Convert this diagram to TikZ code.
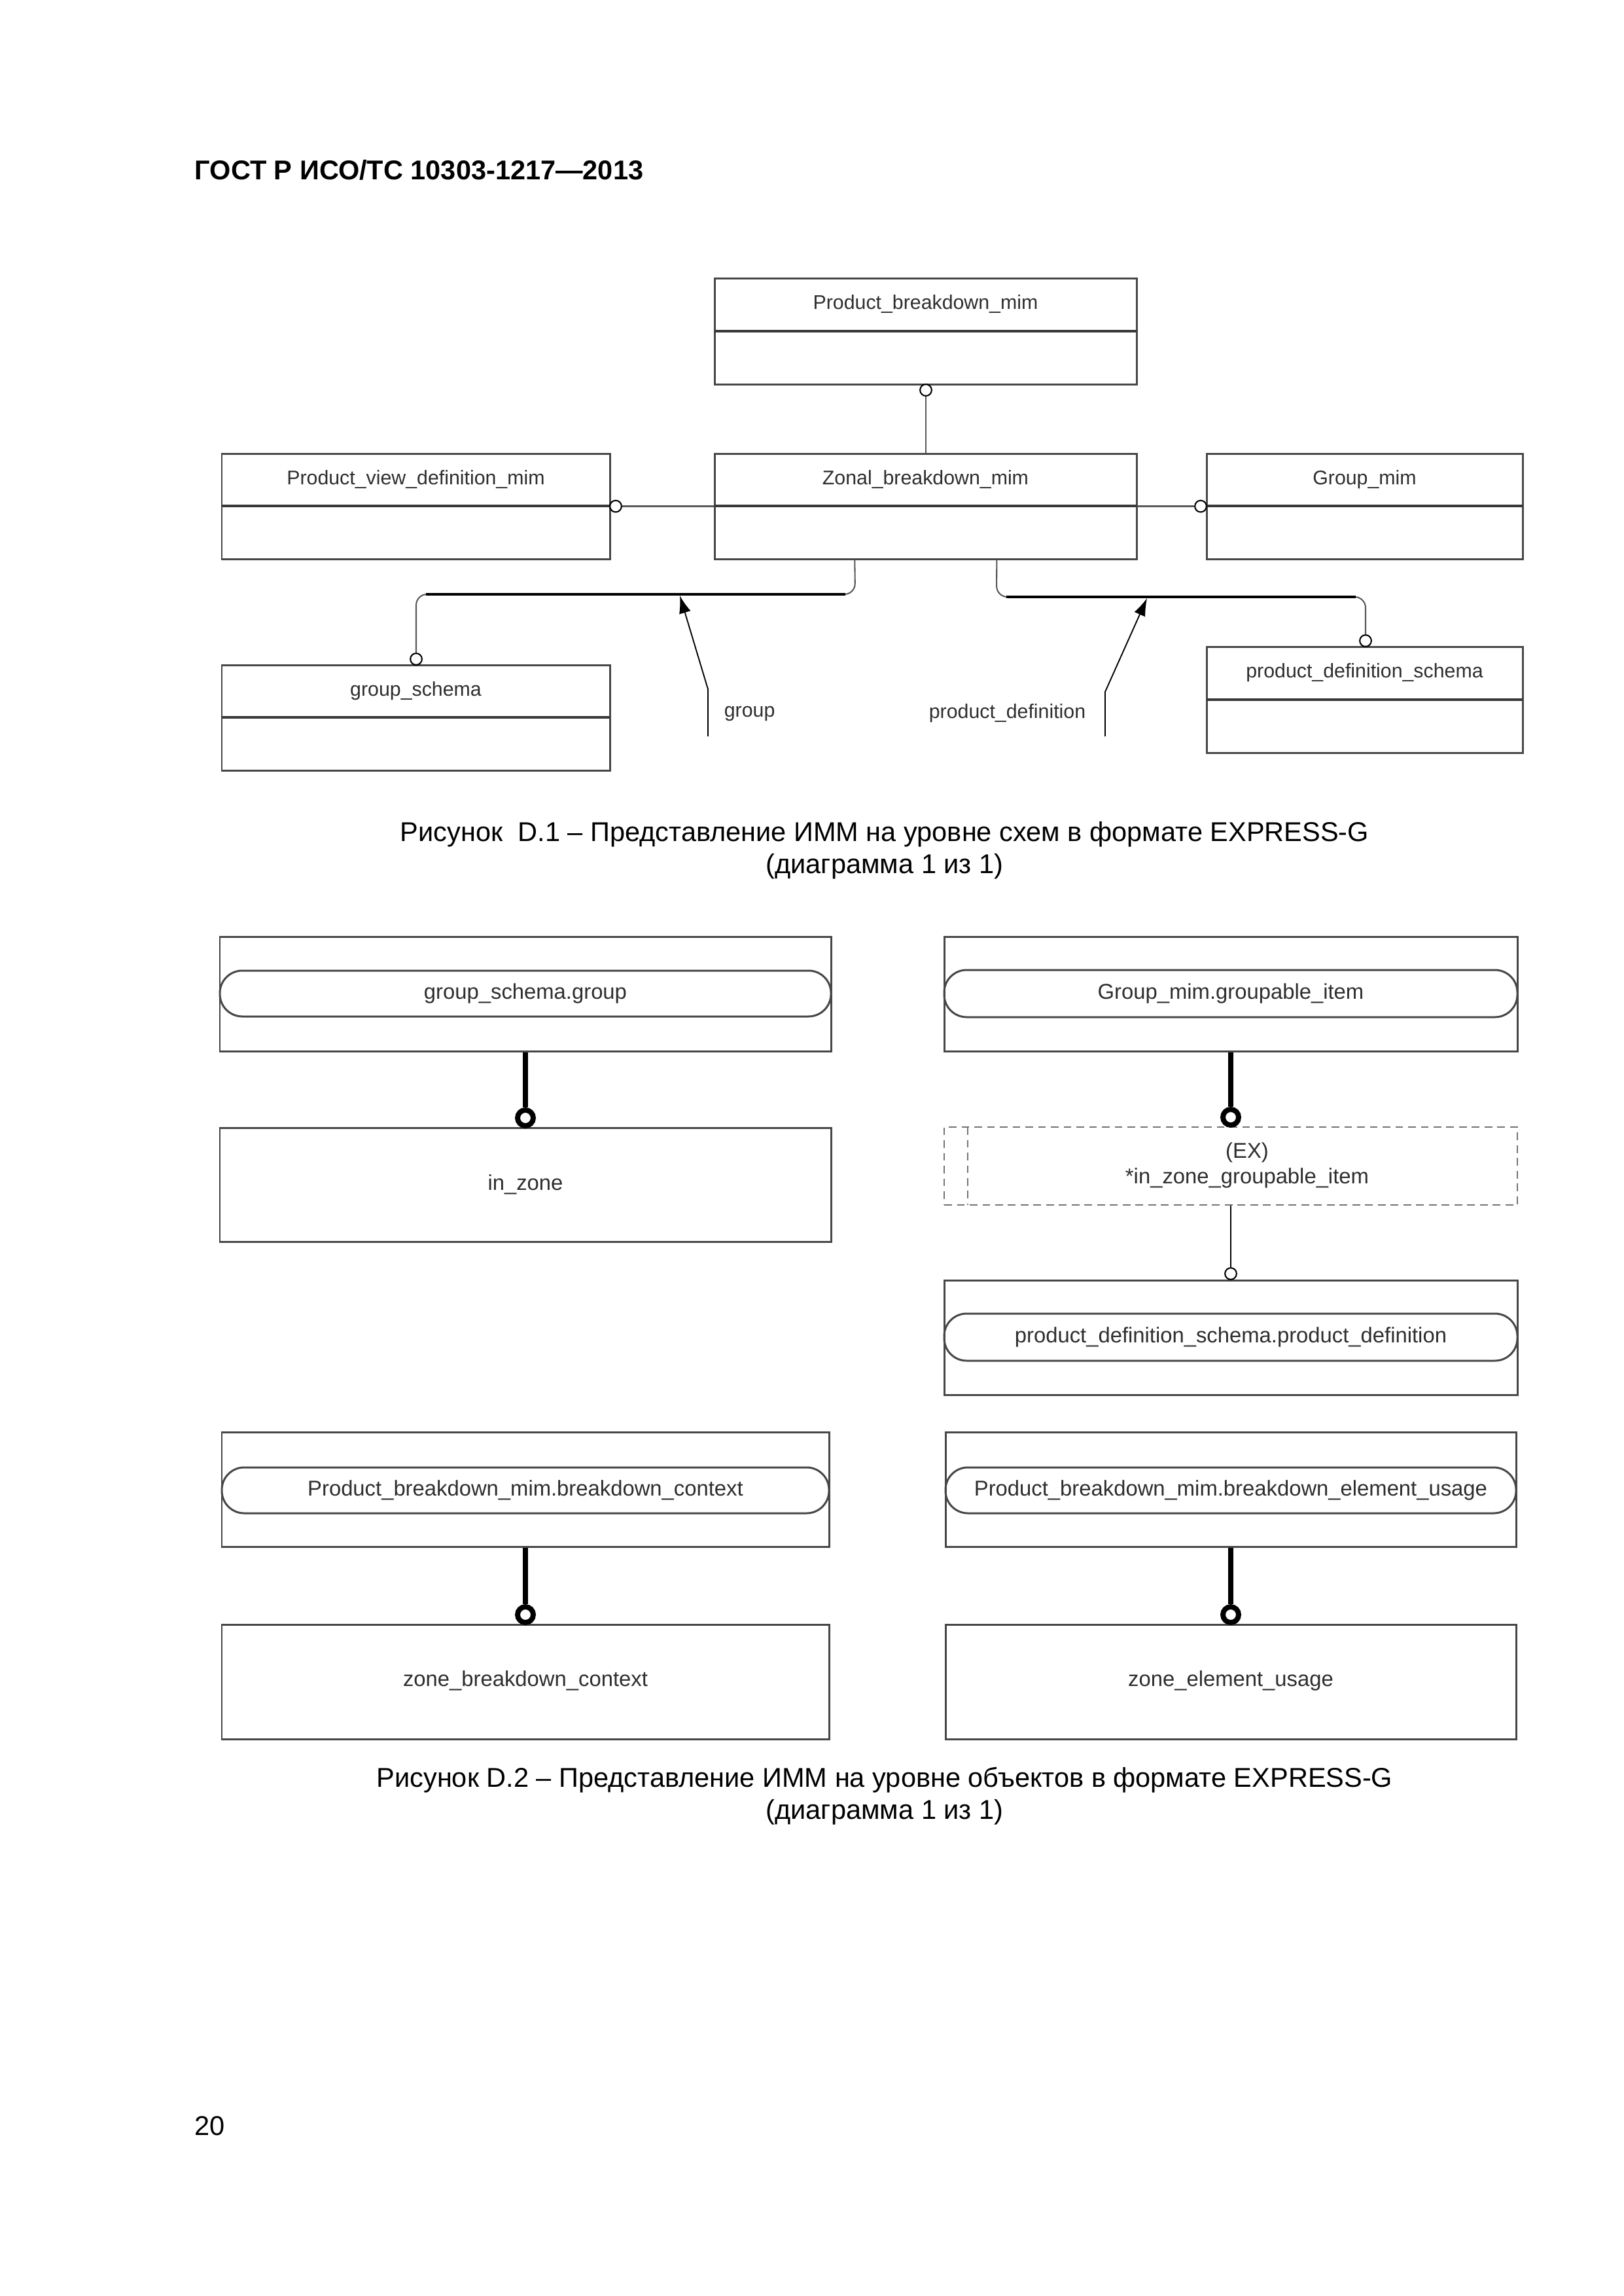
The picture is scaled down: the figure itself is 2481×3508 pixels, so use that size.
\documentclass[tikz,border=0pt]{standalone}
\usepackage{fontspec}
\setmainfont{Liberation Sans}
\usetikzlibrary{arrows.meta,fit,calc}
\begin{document}
\begin{tikzpicture}[x=0.084643mm,y=-0.084643mm,
  ent/.style={draw=black!72, line width=0.72pt, inner sep=0pt},
  divl/.style={draw=black!78, line width=0.8pt},
  stad/.style={draw=black!72, line width=0.72pt, rounded corners=2.9mm},
  exbox/.style={draw=black!55, line width=0.7pt, dash pattern=on 1mm off 0.65mm, inner sep=0pt},
  txa/.style={font=\fontsize{7.3}{8.8}\selectfont, text=black!82, inner sep=0pt},
  txb/.style={font=\fontsize{7.9}{9.5}\selectfont, text=black!82, inner sep=0pt},
  captext/.style={font=\fontsize{10}{12}\selectfont, inner sep=0pt},
  smallcirc/.style={circle, draw=black, line width=0.5pt, fill=white, inner sep=0pt, minimum size=1.5mm},
  bigcirc/.style={circle, draw=black, line width=1.9pt, fill=white, inner sep=0pt, minimum size=2.03mm},
  thinl/.style={draw=black!65, line width=0.5pt},
  thickh/.style={draw=black, line width=1.15pt},
  heavy/.style={draw=black, line width=1.7pt},
  arr/.style={draw=black, line width=0.45pt, -{Latex[length=6.5pt,width=4.4pt]}}
]
\useasboundingbox (0,0) rectangle (2481,3508);

% header and page number
\node[anchor=west, font=\bfseries\fontsize{10}{12}\selectfont, inner sep=0pt] (hdr) at (297,260) {ГОСТ Р ИСО/ТС 10303-1217—2013};
\node[anchor=west, captext] (pgno) at (297,3248) {20};

% ---------------- Figure D.1 ----------------
\node[ent, fit={(1092,425) (1737,587)}] (pbm) {};
\draw[divl] (1092,506) -- (1737,506);
\node[txa] (pbmt) at (1414.5,465) {Product\_breakdown\_mim};

\node[ent, fit={(1092,693) (1737,854)}] (zbm) {};
\draw[divl] (1092,773) -- (1737,773);
\node[txa] (zbmt) at (1414.5,733) {Zonal\_breakdown\_mim};

\node[ent, fit={(339,693) (932,854)}] (pvdm) {};
\draw[divl] (339,773) -- (932,773);
\node[txa] (pvdmt) at (635.5,733) {Product\_view\_definition\_mim};

\node[ent, fit={(1844,693) (2327,854)}] (gm) {};
\draw[divl] (1844,773) -- (2327,773);
\node[txa] (gmt) at (2085.5,733) {Group\_mim};

\node[ent, fit={(339,1016) (932,1177)}] (gs) {};
\draw[divl] (339,1096) -- (932,1096);
\node[txa] (gst) at (635.5,1056) {group\_schema};

\node[ent, fit={(1844,988) (2327,1150)}] (pds) {};
\draw[divl] (1844,1069) -- (2327,1069);
\node[txa] (pdst) at (2085.5,1028) {product\_definition\_schema};

% connectors
\node[smallcirc] (o1) at (1415,596) {};
\draw[thinl] (o1.south) -- (o1.south |- zbm.north);

\node[smallcirc] (o2) at (941,773.5) {};
\draw[thinl] (o2.east) -- (zbm.west);

\node[smallcirc] (o3) at (1835,773.5) {};
\draw[thinl] (zbm.east) -- (o3.west);

\coordinate (zb1) at ($(zbm.south west)!0.333!(zbm.south east)$);
\coordinate (zb2) at ($(zbm.south west)!0.668!(zbm.south east)$);

\node[smallcirc] (o4) at (636,1007) {};
\draw[thinl, rounded corners=4pt] (zb1) -- (1307,908) -- (636,908) -- (o4.north);
\draw[thickh] (1292,908) -- (651,908);

\node[smallcirc] (o5) at (2087,979) {};
\draw[thinl, rounded corners=4pt] (zb2) -- (1523,912) -- (2087,912) -- (o5.north);
\draw[thickh] (1538,912) -- (2072,912);

\coordinate (ga0) at (1082,1125);
\coordinate (ga1) at (1082,1053);
\coordinate (gat) at (1039,910);
\draw[arr] (ga0) -- (ga1) -- (gat);
\node[txa, anchor=west] (glab) at (1106,1090) {group};

\coordinate (pa0) at (1689,1125);
\coordinate (pa1) at (1689,1057);
\coordinate (pat) at (1753,914);
\draw[arr] (pa0) -- (pa1) -- (pat);
\node[txa, anchor=east] (plab) at (1660,1090) {product\_definition};

\node[captext] (cap1a) at (1352,1275) {Рисунок\ \ D.1 – Представление ИММ на уровне схем в формате EXPRESS-G};
\node[captext] (cap1b) at (1352,1324) {(диаграмма 1 из 1)};

% ---------------- Figure D.2 ----------------
% left column
\node[ent, fit={(336,1431) (1270,1606)}] (ba) {};
\node[stad, fit={(336,1483) (1270,1553)}, inner sep=0pt] (sa) {};
\node[txb] (sat) at (803,1518) {group\_schema.group};

\node[ent, fit={(336,1723) (1270,1897)}] (bb) {};
\node[txb] (bbt) at (803,1810) {in\_zone};

\node[bigcirc] (ca) at (803,1708) {};
\draw[heavy] (ba.south) -- (ca.north);

% right column
\node[ent, fit={(1443,1431) (2319,1606)}] (bc) {};
\node[stad, fit={(1443,1482) (2319,1554)}, inner sep=0pt] (sc) {};
\node[txb] (sct) at (1881,1518) {Group\_mim.groupable\_item};

\node[exbox, fit={(1443,1722) (2319,1841)}] (bd) {};
\draw[exbox] (1479,1722) -- (1479,1841);
\node[txb] (bdt1) at (1906,1761) {(EX)};
\node[txb] (bdt2) at (1906,1800) {*in\_zone\_groupable\_item};

\node[bigcirc] (cc) at (1881,1707) {};
\draw[heavy] (bc.south) -- (cc.north);

\node[ent, fit={(1443,1956) (2319,2131)}] (be) {};
\node[stad, fit={(1443,2007) (2319,2079)}, inner sep=0pt] (se) {};
\node[txb] (set) at (1881,2043) {product\_definition\_schema.product\_definition};

\node[smallcirc] (cd) at (1881,1946) {};
\draw[draw=black, line width=0.6pt] (bd.south) -- (cd.north);

% bottom row
\node[ent, fit={(339,2188) (1267,2363)}] (bf) {};
\node[stad, fit={(339,2242) (1267,2312)}, inner sep=0pt] (sf) {};
\node[txb] (sft) at (803,2277) {Product\_breakdown\_mim.breakdown\_context};

\node[ent, fit={(339,2482) (1267,2657)}] (bg) {};
\node[txb] (bgt) at (803,2568) {zone\_breakdown\_context};

\node[bigcirc] (cf) at (803,2467) {};
\draw[heavy] (bf.south) -- (cf.north);

\node[ent, fit={(1445,2188) (2317,2363)}] (bh) {};
\node[stad, fit={(1445,2242) (2317,2312)}, inner sep=0pt] (sh) {};
\node[txb] (sht) at (1881,2277) {Product\_breakdown\_mim.breakdown\_element\_usage};

\node[ent, fit={(1445,2482) (2317,2657)}] (bi) {};
\node[txb] (bit) at (1881,2568) {zone\_element\_usage};

\node[bigcirc] (ch) at (1881,2467) {};
\draw[heavy] (bh.south) -- (ch.north);

\node[captext] (cap2a) at (1352,2720) {Рисунок D.2 – Представление ИММ на уровне объектов в формате EXPRESS-G};
\node[captext] (cap2b) at (1352,2769) {(диаграмма 1 из 1)};
\end{tikzpicture}
\end{document}
